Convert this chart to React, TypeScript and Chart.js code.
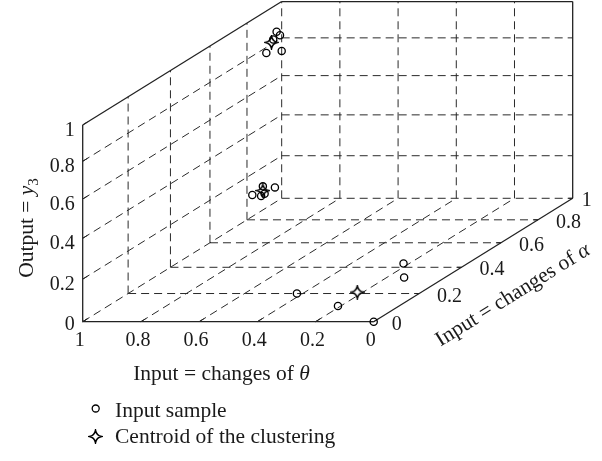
import React, { useEffect, useRef } from 'react';
import { Chart, registerables } from 'chart.js';

Chart.register(...registerables);

const FONT = '"Liberation Serif", "Times New Roman", serif';

// Axis ticks
const THETA_TICKS = [1, 0.8, 0.6, 0.4, 0.2, 0];
const ALPHA_TICKS = [0, 0.2, 0.4, 0.6, 0.8, 1];
const OUTPUT_TICKS = [0, 0.2, 0.4, 0.6, 0.8, 1];
const GRID_STEPS = [0.2, 0.4, 0.6, 0.8];

// Input samples (theta change, alpha change, output y3)
const SAMPLE_THETA = [0, 0.21, 0.42, 0.22, 0.14, 1, 1, 1, 1, 1, 1, 1, 1, 1, 1];
const SAMPLE_ALPHA = [0, 0.11, 0.2, 0.43, 0.32, 0.83, 0.88, 0.89, 0.9, 0.96, 0.91, 0.97, 0.99, 1.0, 0.95];
const SAMPLE_OUTPUT = [0, 0, 0, 0, 0, 0.1, 0.07, 0.11, 0.07, 0.07, 0.77, 0.85, 0.82, 0.73, 0.82];

// Cluster centroids
const CENTROID_THETA = [0.22, 1, 1];
const CENTROID_ALPHA = [0.21, 0.89, 0.94];
const CENTROID_OUTPUT = [0, 0.09, 0.81];

// Projection of the 3D box into the flat (hidden) x/y scales
const P = {
  x0: 82.7,
  y0: 321.7,
  thetaW: 291,
  alphaHX: 235.4,
  alphaHY: 146,
  alphaPersp: 0.183,
  zH: 217.2,
  zPersp: 0.104,
};

function project(theta: number, alpha: number, z: number) {
  const ad = 1 + P.alphaPersp * alpha;
  return {
    x: P.x0 + (1 - theta) * P.thetaW + (P.alphaHX * alpha) / ad,
    y: P.y0 - (P.alphaHY * alpha) / ad - (P.zH * z) / (1 + P.zPersp * z),
  };
}

const fmt = (v: number) => (v === 0 ? '0' : v === 1 ? '1' : v.toFixed(1));

function makeStar(): HTMLCanvasElement {
  const c = document.createElement('canvas');
  c.width = 15;
  c.height = 15;
  const ctx = c.getContext('2d')!;
  const cx = 7.5, cy = 7.5, R = 6.2, r = 1.0;
  ctx.beginPath();
  ctx.moveTo(cx, cy - R);
  ctx.quadraticCurveTo(cx + r, cy - r, cx + R, cy);
  ctx.quadraticCurveTo(cx + r, cy + r, cx, cy + R);
  ctx.quadraticCurveTo(cx - r, cy + r, cx - R, cy);
  ctx.quadraticCurveTo(cx - r, cy - r, cx, cy - R);
  ctx.closePath();
  ctx.fillStyle = '#fff';
  ctx.fill();
  ctx.strokeStyle = '#000';
  ctx.lineWidth = 1.6;
  ctx.stroke();
  return c;
}

type Run = { t: string; italic?: boolean; sub?: boolean };

function drawRich(ctx: CanvasRenderingContext2D, runs: Run[], x: number, y: number, size: number) {
  const fontFor = (r: Run) =>
    `${r.italic ? 'italic ' : ''}${r.sub ? size * 0.7 : size}px ${FONT}`;
  let total = 0;
  const widths = runs.map((r) => {
    ctx.font = fontFor(r);
    const w = ctx.measureText(r.t).width;
    total += w;
    return w;
  });
  let cx = x - total / 2;
  ctx.textAlign = 'left';
  ctx.textBaseline = 'alphabetic';
  runs.forEach((r, i) => {
    ctx.font = fontFor(r);
    ctx.fillText(r.t, cx, y + (r.sub ? size * 0.22 : 0));
    cx += widths[i];
  });
}

export default function App() {
  const ref = useRef<HTMLCanvasElement | null>(null);

  useEffect(() => {
    if (!ref.current) return;
    const star = makeStar();

    const samples = SAMPLE_THETA.map((t, i) => project(t, SAMPLE_ALPHA[i], SAMPLE_OUTPUT[i]));
    const centroids = CENTROID_THETA.map((t, i) => project(t, CENTROID_ALPHA[i], CENTROID_OUTPUT[i]));

    const boxPlugin = {
      id: 'box3d',
      beforeDatasetsDraw(chart: any) {
        const ctx: CanvasRenderingContext2D = chart.ctx;
        const sx = chart.scales.x, sy = chart.scales.y;
        const px = (t: number, a: number, z: number) => {
          const p = project(t, a, z);
          return [sx.getPixelForValue(p.x), sy.getPixelForValue(p.y)];
        };
        const seg = (a: number[], b: number[]) => {
          const p1 = px(a[0], a[1], a[2]);
          const p2 = px(b[0], b[1], b[2]);
          ctx.beginPath();
          ctx.moveTo(p1[0], p1[1]);
          ctx.lineTo(p2[0], p2[1]);
          ctx.stroke();
        };
        ctx.save();
        // dashed grid
        ctx.strokeStyle = '#2a2a2a';
        ctx.lineWidth = 1;
        ctx.setLineDash([8, 5]);
        // floor
        [...GRID_STEPS, 1].forEach((a) => seg([1, a, 0], [0, a, 0]));
        [1, ...GRID_STEPS].forEach((t) => seg([t, 0, 0], [t, 1, 0]));
        // left wall (theta = 1)
        GRID_STEPS.forEach((z) => seg([1, 0, z], [1, 1, z]));
        [...GRID_STEPS, 1].forEach((a) => seg([1, a, 0], [1, a, 1]));
        // back wall (alpha = 1)
        GRID_STEPS.forEach((t) => seg([t, 1, 0], [t, 1, 1]));
        GRID_STEPS.forEach((z) => seg([1, 1, z], [0, 1, z]));
        // solid box edges
        ctx.setLineDash([]);
        ctx.strokeStyle = '#222';
        ctx.lineWidth = 1.3;
        seg([1, 0, 0], [0, 0, 0]);
        seg([0, 0, 0], [0, 1, 0]);
        seg([1, 0, 0], [1, 0, 1]);
        seg([1, 0, 1], [1, 1, 1]);
        seg([1, 1, 1], [0, 1, 1]);
        seg([0, 1, 1], [0, 1, 0]);
        // small ticks
        ctx.lineWidth = 1;
        THETA_TICKS.forEach((t) => seg([t, 0, 0], [t, 0.02, 0]));
        OUTPUT_TICKS.forEach((z) => seg([1, 0, z], [1, 0.02, z]));
        ALPHA_TICKS.forEach((a) => seg([0, a, 0], [0.015, a, 0]));
        ctx.restore();
      },
      afterDraw(chart: any) {
        const ctx: CanvasRenderingContext2D = chart.ctx;
        const sx = chart.scales.x, sy = chart.scales.y;
        const px = (t: number, a: number, z: number) => {
          const p = project(t, a, z);
          return [sx.getPixelForValue(p.x), sy.getPixelForValue(p.y)];
        };
        ctx.save();
        ctx.fillStyle = '#1a1a1a';
        ctx.font = `20px ${FONT}`;
        ctx.textBaseline = 'alphabetic';
        // output ticks
        ctx.textAlign = 'right';
        OUTPUT_TICKS.forEach((z) => {
          const p = px(1, 0, z);
          ctx.fillText(fmt(z), p[0] - 8, p[1] + (z === 0 ? 8 : 11));
        });
        // theta ticks
        ctx.textAlign = 'center';
        THETA_TICKS.forEach((t) => {
          const p = px(t, 0, 0);
          ctx.fillText(fmt(t), p[0] - 3, p[1] + 24);
        });
        // alpha ticks
        ctx.textAlign = 'left';
        ALPHA_TICKS.forEach((a) => {
          const p = px(0, a, 0);
          ctx.fillText(fmt(a), p[0] + (a === 1 ? 9 : 18), p[1] + 8);
        });
        // axis titles
        const TS = 21.5;
        drawRich(ctx, [{ t: 'Input = changes of ' }, { t: 'θ', italic: true }], 221.5, 380, TS);
        ctx.save();
        ctx.translate(33, 228);
        ctx.rotate(-Math.PI / 2);
        drawRich(ctx, [{ t: 'Output = ' }, { t: 'y', italic: true }, { t: '3', sub: true }], 0, 0, TS);
        ctx.restore();
        ctx.save();
        ctx.translate(516, 300);
        ctx.rotate(-Math.atan2(P.alphaHY, P.alphaHX));
        drawRich(ctx, [{ t: 'Input = changes of ' }, { t: 'α', italic: true }], 0, 0, TS);
        ctx.restore();
        // legend
        ctx.strokeStyle = '#000';
        ctx.lineWidth = 1.3;
        ctx.beginPath();
        ctx.arc(95.7, 408.5, 3.5, 0, Math.PI * 2);
        ctx.stroke();
        ctx.drawImage(star, 95.5 - 7.5, 436.5 - 7.5);
        ctx.font = `${TS}px ${FONT}`;
        ctx.textAlign = 'left';
        ctx.fillText(chart.data.datasets[0].label, 115, 417);
        ctx.fillText(chart.data.datasets[1].label, 115, 443);
        ctx.restore();
      },
    };

    const chart = new Chart(ref.current, {
      type: 'scatter',
      data: {
        datasets: [
          {
            label: 'Input sample',
            data: samples,
            pointStyle: 'circle',
            pointRadius: 3.6,
            borderColor: '#000',
            backgroundColor: 'rgba(0,0,0,0)',
            borderWidth: 1.3,
          },
          {
            label: 'Centroid of the clustering',
            data: centroids,
            pointStyle: star as any,
            pointRadius: 6,
            borderColor: '#000',
            backgroundColor: '#fff',
          },
        ],
      },
      options: {
        responsive: false,
        animation: false,
        events: [],
        layout: { padding: 0, autoPadding: false },
        plugins: { legend: { display: false }, tooltip: { enabled: false } },
        scales: {
          x: { type: 'linear', min: 0, max: 602, display: false },
          y: { type: 'linear', min: 0, max: 461, reverse: true, display: false },
        },
      },
      plugins: [boxPlugin],
    });
    return () => chart.destroy();
  }, []);

  return (
    <div style={{ position: 'absolute', left: 0, top: 0, width: 602, height: 461, background: '#fff' }}>
      <canvas ref={ref} width={602} height={461} style={{ display: 'block' }} />
    </div>
  );
}
